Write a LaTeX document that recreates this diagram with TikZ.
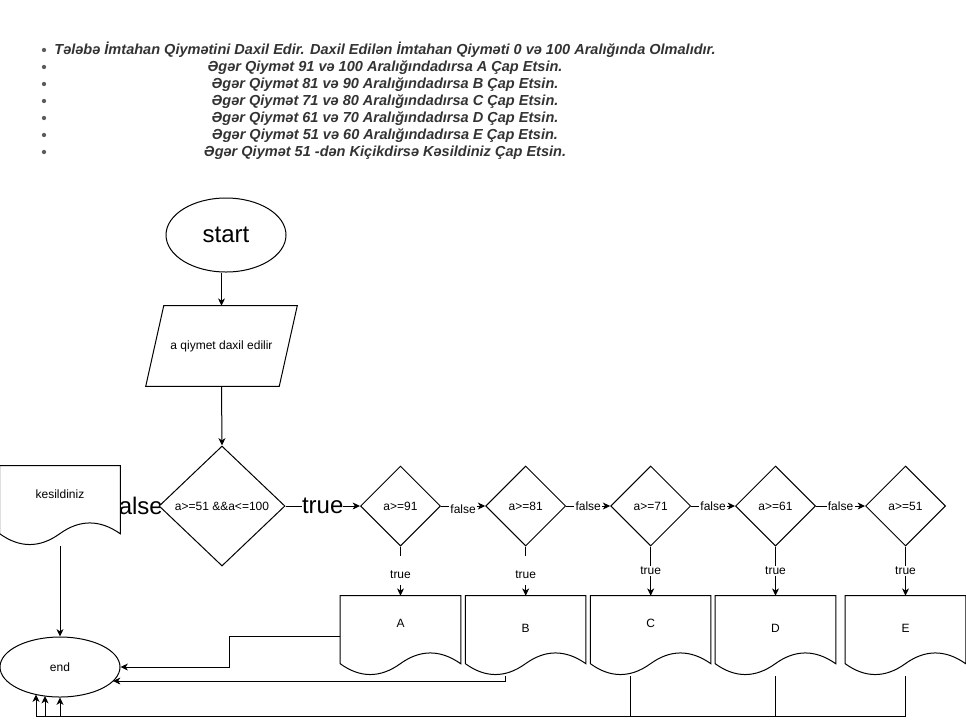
\documentclass[tikz,border=0pt]{standalone}
\usepackage{fontspec}
\setmainfont{Liberation Sans}
\usetikzlibrary{shapes.geometric,arrows.meta,calc}
\pgfdeclarelayer{paper}
\pgfdeclarelayer{under}
\pgfdeclarelayer{docs}
\pgfsetlayers{paper,under,docs,main}
\definecolor{ink}{HTML}{333333}

% document symbol: flat top, wavy bottom (box 120 x 80 px)
\newcommand{\docoutline}[1]{%
  \draw[line, fill=white] (#1.north west) -- (#1.north east) -- ($(#1.north east)+(0,68)$)
    .. controls ($(#1.north west)+(100,53.6)$) and ($(#1.north west)+(80,53.6)$) .. ($(#1.north west)+(60,68)$)
    .. controls ($(#1.north west)+(40,82.4)$) and ($(#1.north west)+(20,82.4)$) .. ($(#1.north west)+(0,68)$)
    -- cycle;}

\begin{document}
\begin{tikzpicture}[x=0.75pt,y=-0.75pt,
  every node/.style={font=\fontsize{9}{10.8}\selectfont, inner sep=0pt},
  line/.style={draw=black, line width=0.75pt},
  arr/.style={line, -{Stealth[length=5.5pt,width=5.2pt,inset=1.6pt]}},
  term/.style={ellipse, draw, line width=0.75pt, fill=white, minimum width=90pt},
  decide/.style={diamond, draw, line width=0.75pt, fill=white, aspect=1,
                 minimum width=60pt, minimum height=60pt},
  docbox/.style={rectangle, minimum width=90pt, minimum height=60pt},
  elabel/.style={fill=white, inner sep=1pt},
  tallabel/.style={fill=white, inner xsep=1pt, inner ysep=0pt, text height=16.5pt, text depth=5.25pt},
  biglabel/.style={fill=white, inner sep=0pt, font=\fontsize{18}{20}\selectfont},
  intro/.style={text=ink, align=center, font=\fontsize{10.9}{12.75}\bfseries\itshape\selectfont},
]
\begin{pgfonlayer}{paper}
  \fill[white] (0,0) rectangle (966,726);
\end{pgfonlayer}
\useasboundingbox (0,0) rectangle (966,726);

% task description
\node[intro] (task) at (385,101) {%
  Tələbə İmtahan Qiymətini Daxil Edir. Daxil Edilən İmtahan Qiyməti 0 və 100 Aralığında Olmalıdır.\\
  Əgər Qiymət 91 və 100 Aralığındadırsa A Çap Etsin.\\
  Əgər Qiymət 81 və 90 Aralığındadırsa B Çap Etsin.\\
  Əgər Qiymət 71 və 80 Aralığındadırsa C Çap Etsin.\\
  Əgər Qiymət 61 və 70 Aralığındadırsa D Çap Etsin.\\
  Əgər Qiymət 51 və 60 Aralığındadırsa E Çap Etsin.\\
  Əgər Qiymət 51 -dən Kiçikdirsə Kəsildiniz Çap Etsin.};
\foreach \y in {50,67,84,101,118,135,152}
  \fill[ink!80] (44,\y) circle (1.6pt);

% flowchart nodes
\node[term, minimum height=55.5pt, font=\fontsize{18}{20}\selectfont] (start) at (226,235) {start};
\node[rectangle, minimum width=113.25pt, minimum height=60pt] (inp) at (221.5,346) {a qiymet daxil edilir};
\node[decide, minimum width=94.5pt, minimum height=90pt] (dmain) at (222,506) {a>=51 \&\&a<=100};

\node[decide] (d91) at (400.5,506) {a>=91};
\node[decide] (d81) at (525.7,506) {a>=81};
\node[decide] (d71) at (650.7,506) {a>=71};
\node[decide] (d61) at (775.5,506) {a>=61};
\node[decide] (d51) at (905.5,506) {a>=51};

\node[docbox, label={[yshift=9pt]center:kesildiniz}] (kes) at (60,506) {};
\node[docbox, label={[yshift=9.75pt]center:A}] (A) at (400.5,636) {};
\node[docbox, label={[yshift=6pt]center:B}] (B) at (525.7,636) {};
\node[docbox, label={[yshift=9.75pt]center:C}] (C) at (650.7,636) {};
\node[docbox, label={[yshift=6pt]center:D}] (D) at (775.5,636) {};
\node[docbox, label={[yshift=6pt]center:E}] (E) at (905.5,636) {};

\node[term, minimum height=45pt] (endn) at (60,667) {end};

% input parallelogram outline
\draw[line] ($(inp.north west)+(18,0)$) -- (inp.north east)
  -- ($(inp.south east)+(-18,0)$) -- (inp.south west) -- cycle;

% document outlines
\begin{pgfonlayer}{docs}
  \foreach \d in {kes,A,B,C,D,E} { \docoutline{\d} }
\end{pgfonlayer}

% entry points on the end terminal
\coordinate (base) at (0,716);
\coordinate (eB) at (113,681);
\coordinate (eD) at (45,696);
\coordinate (eE) at (36,694.5);

% connectors
\draw[arr] (start.south -| inp.north) -- (inp.north);
\draw[arr] (inp.south) -- (dmain.north);

\begin{pgfonlayer}{under}
  \draw[arr] (dmain.west) -- (kes.east) node[biglabel, pos=0.55] {false};
\end{pgfonlayer}
\draw[arr] (dmain.east) -- (d91.west) node[biglabel, midway] {true};

\draw[arr] (d91.east) -- (d81.west) node[elabel, midway, yshift=-2.25pt] {false};
\draw[arr] (d81.east) -- (d71.west) node[elabel, midway] {false};
\draw[arr] (d71.east) -- (d61.west) node[elabel, midway] {false};
\draw[arr] (d61.east) -- (d51.west) node[elabel, midway] {false};

\draw[arr] (d91.south) -- (A.north) node[tallabel, pos=0.49] {true};
\draw[arr] (d81.south) -- (B.north) node[tallabel, pos=0.49] {true};
\draw[arr] (d71.south) -- (C.north) node[elabel, pos=0.5] {true};
\draw[arr] (d61.south) -- (D.north) node[elabel, pos=0.5] {true};
\draw[arr] (d51.south) -- (E.north) node[elabel, pos=0.5] {true};

\draw[arr] (kes.south) -- (endn.north);
\draw[arr] (A.west) -- ++(-110.5,0) |- (endn.east);
\draw[arr] ([xshift=-15pt]B.south) |- (eB);
\draw[arr] ([xshift=-15pt]C.south) -- ([xshift=-15pt]C.south |- base) -| (endn.south);
\draw[arr] (D.south) -- (D.south |- base) -| (eD);
\draw[arr] (E.south) -- (E.south |- base) -| (eE);
\end{tikzpicture}
\end{document}
